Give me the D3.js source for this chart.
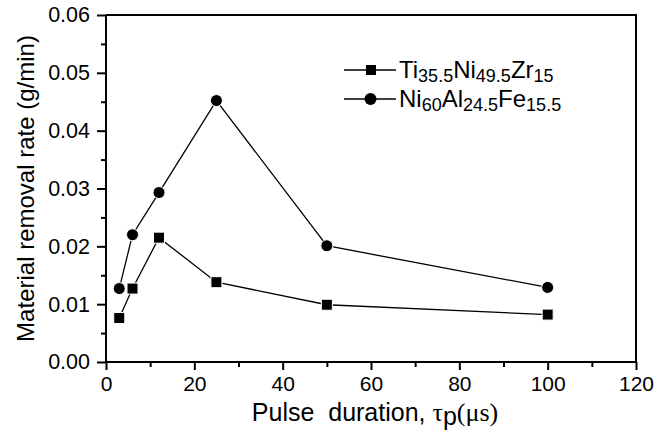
<!DOCTYPE html>
<html>
<head>
<meta charset="utf-8">
<script src="https://cdn.jsdelivr.net/npm/d3@7/dist/d3.min.js"></script>
<style>
  body { margin: 0; background: #fff; }
  text { font-family: "Liberation Sans", Arial, sans-serif; fill: #000; }
</style>
</head>
<body>
<svg id="chart" width="669" height="433"></svg>
<script>
// Pulse duration (µs) and material removal rate (g/min)
const pulseDuration = [3, 6, 12, 25, 50, 100];
const tiNiZr = [0.0076, 0.0127, 0.0215, 0.0138, 0.0099, 0.0082];
const niAlFe = [0.0127, 0.0220, 0.0293, 0.0452, 0.0201, 0.0129];
const xTicks = [0, 20, 40, 60, 80, 100, 120];
const yTicks = [0.00, 0.01, 0.02, 0.03, 0.04, 0.05, 0.06];

const svg = d3.select("#chart");
const plotL = 106, plotR = 636, plotT = 15, plotB = 362;
const sans = "Liberation Sans, Arial, sans-serif";
const serif = "Liberation Serif, Times New Roman, serif";

const x = d3.scaleLinear().domain([0, 120]).range([plotL, plotR]);
const y = d3.scaleLinear().domain([0, 0.06]).range([plotB, plotT]);

// frame (top and right edges)
svg.append("path")
  .attr("d", `M${plotL},${plotT}H${plotR}V${plotB}`)
  .attr("fill", "none").attr("stroke", "#000").attr("stroke-width", 2);

// x axis: minor ticks, then major ticks with labels
const gx = svg.append("g").attr("transform", `translate(0,${plotB})`);
gx.append("g").call(d3.axisBottom(x).tickValues(d3.range(10, 120, 20)).tickSize(5).tickFormat(""))
  .call(g => g.select(".domain").remove());
gx.append("g").call(d3.axisBottom(x).tickValues(xTicks).tickSize(8).tickFormat(d3.format("d")).tickPadding(6))
  .call(g => g.select(".domain").attr("stroke-width", 2).attr("d", `M${plotL},0H${plotR}`));
gx.selectAll("line").attr("stroke-width", 2);
gx.selectAll("text").style("font-size", "21px").style("font-family", sans);

// y axis
const gy = svg.append("g").attr("transform", `translate(${plotL},0)`);
gy.append("g").call(d3.axisLeft(y).tickValues(d3.range(0.005, 0.06, 0.01)).tickSize(5).tickFormat(""))
  .call(g => g.select(".domain").remove());
gy.append("g").call(d3.axisLeft(y).tickValues(yTicks).tickSize(9).tickFormat(d3.format(".2f")).tickPadding(7))
  .call(g => g.select(".domain").attr("stroke-width", 2).attr("d", `M0,${plotB}V${plotT}`));
gy.selectAll("line").attr("stroke-width", 2);
gy.selectAll("text").style("font-size", "21.5px").style("font-family", sans);

// axis titles
svg.append("text")
  .attr("transform", `translate(34,${(plotT + plotB) / 2}) rotate(-90)`)
  .attr("text-anchor", "middle").style("font-size", "24px")
  .text("Material removal rate (g/min)");

const xt = svg.append("text").attr("x", 375).attr("y", 421)
  .attr("text-anchor", "middle").style("font-size", "25px");
xt.append("tspan").attr("xml:space", "preserve").text("Pulse  duration, ");
xt.append("tspan").style("font-family", serif).style("font-size", "26px").text("τ");
xt.append("tspan").attr("dy", 4).text("p");
xt.append("tspan").attr("dy", -4).style("font-family", serif).style("font-size", "26px").text("(μs)");

// series
const line = d3.line().x((d, i) => x(pulseDuration[i])).y(d => y(d));
function drawSeries(vals, shape) {
  svg.append("path").datum(vals).attr("d", line)
    .attr("fill", "none").attr("stroke", "#000").attr("stroke-width", 1.3);
  vals.forEach((v, i) => {
    const cx = x(pulseDuration[i]), cy = y(v);
    if (shape === "square") {
      svg.append("rect").attr("x", cx - 5.5).attr("y", cy - 5.5).attr("width", 11).attr("height", 11)
        .attr("fill", "#000").attr("stroke", "#fff").attr("stroke-width", 1);
    } else {
      svg.append("circle").attr("cx", cx).attr("cy", cy).attr("r", 6)
        .attr("fill", "#000").attr("stroke", "#fff").attr("stroke-width", 1);
    }
  });
}
drawSeries(tiNiZr, "square");
drawSeries(niAlFe, "circle");

// legend
const legend = [
  { shape: "square", parts: [["Ti", 0], ["35.5", 1], ["Ni", 0], ["49.5", 1], ["Zr", 0], ["15", 1]] },
  { shape: "circle", parts: [["Ni", 0], ["60", 1], ["Al", 0], ["24.5", 1], ["Fe", 0], ["15.5", 1]] }
];
legend.forEach((item, k) => {
  const ly = 70 + k * 29;
  svg.append("line").attr("x1", 344).attr("x2", 396).attr("y1", ly).attr("y2", ly)
    .attr("stroke", "#000").attr("stroke-width", 1.3);
  if (item.shape === "square") {
    svg.append("rect").attr("x", 366).attr("y", ly - 5).attr("width", 10).attr("height", 10).attr("fill", "#000");
  } else {
    svg.append("circle").attr("cx", 370.5).attr("cy", ly).attr("r", 6).attr("fill", "#000");
  }
  const t = svg.append("text").attr("x", 399).attr("y", ly + 8).style("font-size", "24px");
  let prevSub = 0;
  item.parts.forEach(([s, sub]) => {
    const ts = t.append("tspan").text(s);
    if (sub) { ts.style("font-size", "18px"); ts.attr("dy", prevSub ? 0 : 4); }
    else { ts.attr("dy", prevSub ? -4 : 0); }
    prevSub = sub;
  });
});
</script>
</body>
</html>
